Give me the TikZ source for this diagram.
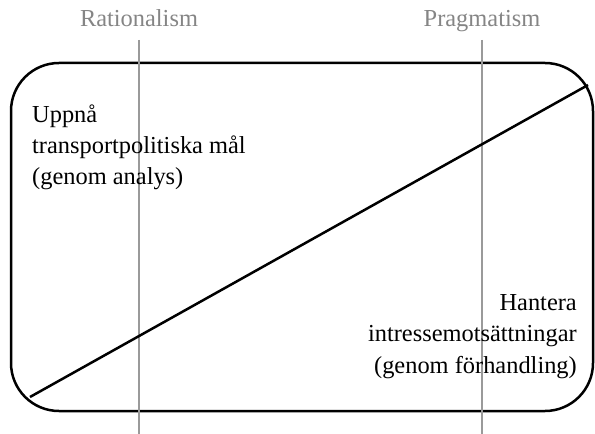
\documentclass[tikz,border=0pt]{standalone}
\usepackage{fontspec}
\setmainfont{Liberation Serif}
\definecolor{axisgray}{HTML}{9A9A9A}
\definecolor{labelgray}{HTML}{858585}
\begin{document}
\begin{tikzpicture}[x=1bp,y=-1bp,
  frame/.style={draw=black,line width=2.5bp,rounded corners=48bp},
  axis/.style={draw=axisgray,line width=1.5bp},
  diag/.style={draw=black,line width=2.5bp},
  toplabel/.style={text=labelgray,font=\fontsize{24.5}{28}\selectfont,anchor=base,inner sep=0pt},
  body/.style={font=\fontsize{24.5}{31.5}\selectfont,inner sep=0pt}]
\useasboundingbox (0,0) rectangle (595,434);
\draw[frame] (11,63) rectangle (593,411);
\coordinate (rtop) at (139,40);
\coordinate (rbot) at (139,434);
\coordinate (ptop) at (482,40);
\coordinate (pbot) at (482,434);
\draw[axis] (rtop) -- (rbot);
\draw[axis] (ptop) -- (pbot);
\coordinate (dA) at (30,397);
\coordinate (dB) at (588,85);
\draw[diag] (dA) -- (dB);
\node[toplabel] (rat) at (139,27) {Rationalism};
\node[toplabel] (prag) at (482,27) {Pragmatism};
\node[body,align=left,anchor=base west] (goal) at (32,185) {Uppnå\\transportpolitiska mål\\(genom analys)};
\node[body,align=right,anchor=base east] (handle) at (577,373) {Hantera\\intressemotsättningar\\(genom förhandling)};
\end{tikzpicture}
\end{document}
